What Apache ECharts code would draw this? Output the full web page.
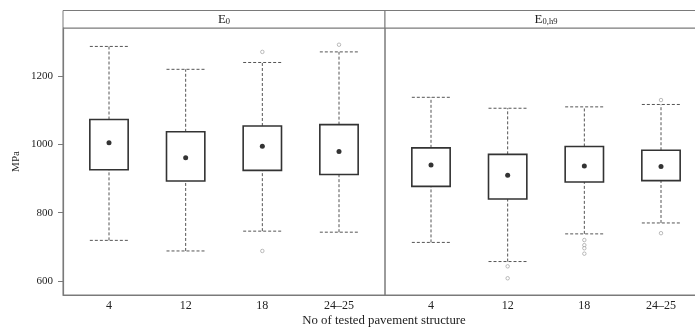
<!DOCTYPE html>
<html>
<head>
<meta charset="utf-8">
<script src="https://cdn.jsdelivr.net/npm/echarts@6/dist/echarts.min.js"></script>
<style>
  html, body { margin: 0; padding: 0; background: #fff; }
  #chart { width: 695px; height: 329px; }
</style>
</head>
<body>
<div id="chart"></div>
<script>
// categories (No of tested pavement structure)
var categories = ["4", "12", "18", "24–25"];
var yTicks = [600, 800, 1000, 1200];

// E0 panel: whisker low, Q1, Q3, whisker high, mean
var e0Low = [719, 688, 746, 743];
var e0Q1 = [926, 893, 924, 912];
var e0Q3 = [1073, 1037, 1054, 1058];
var e0High = [1287, 1220, 1240, 1271];
var e0Mean = [1005, 961, 995, 979];
var e0Outliers = [[2, 1271], [2, 688], [3, 1292]];

// E0,h9 panel
var e9Low = [713, 657, 738, 770];
var e9Q1 = [877, 840, 890, 894];
var e9Q3 = [990, 971, 994, 983];
var e9High = [1138, 1106, 1110, 1117];
var e9Mean = [940, 910, 937, 935];
var e9Outliers = [[1, 643], [1, 608], [2, 720], [2, 705], [2, 696], [2, 680], [3, 1130], [3, 740]];

var FONT = "Liberation Serif";
var LINE = "#7a7a7a";
var TXT = "#222";

function boxRows(low, q1, q3, high) {
  return categories.map(function (c, i) {
    return [i, low[i], q1[i], q3[i], high[i]];
  });
}
function meanRows(m) {
  return categories.map(function (c, i) { return [i, m[i]]; });
}

// box with dashed whiskers, no median line
function renderBox(params, api) {
  var x = api.value(0);
  var lo = api.coord([x, api.value(1)]);
  var q1 = api.coord([x, api.value(2)]);
  var q3 = api.coord([x, api.value(3)]);
  var hi = api.coord([x, api.value(4)]);
  var hw = api.size([1, 0])[0] * 0.25;
  var dash = { stroke: "#555", lineWidth: 1, lineDash: [3, 2] };
  return {
    type: "group",
    children: [
      { type: "line", shape: { x1: lo[0], y1: lo[1], x2: q1[0], y2: q1[1] }, style: dash },
      { type: "line", shape: { x1: q3[0], y1: q3[1], x2: hi[0], y2: hi[1] }, style: dash },
      { type: "line", shape: { x1: lo[0] - hw, y1: lo[1], x2: lo[0] + hw, y2: lo[1] }, style: dash },
      { type: "line", shape: { x1: hi[0] - hw, y1: hi[1], x2: hi[0] + hw, y2: hi[1] }, style: dash },
      {
        type: "rect",
        shape: { x: q3[0] - hw, y: q3[1], width: hw * 2, height: q1[1] - q3[1] },
        style: { fill: "#fff", stroke: "#333", lineWidth: 1.6 }
      }
    ]
  };
}

function xAxisFor(gi) {
  return {
    type: "value",
    gridIndex: gi,
    min: -0.6,
    max: 3.6,
    splitLine: { show: false },
    axisLine: { show: true, onZero: false, lineStyle: { color: LINE, width: 1.2 } },
    axisTick: { show: false },
    axisLabel: {
      customValues: [0, 1, 2, 3],
      formatter: function (v) { return categories[Math.round(v)]; },
      color: TXT,
      fontFamily: FONT,
      fontSize: 12,
      margin: 5
    }
  };
}

function yAxisFor(gi, showLabels) {
  return {
    type: "value",
    gridIndex: gi,
    min: 559,
    max: 1341,
    name: showLabels ? "MPa" : "",
    nameLocation: "middle",
    nameGap: 41,
    nameTextStyle: { color: TXT, fontFamily: FONT, fontSize: 11 },
    splitLine: { show: false },
    axisLine: { show: showLabels, onZero: false, lineStyle: { color: LINE, width: 1.2 } },
    axisTick: { show: showLabels, customValues: yTicks, length: 5, lineStyle: { color: LINE } },
    axisLabel: {
      show: showLabels,
      customValues: yTicks,
      formatter: function (v) { return String(v); },
      color: TXT,
      fontFamily: FONT,
      fontSize: 11,
      margin: 10
    }
  };
}

var outlierStyle = { color: "#fff", borderColor: "#888", borderWidth: 0.7 };

var chart = echarts.init(document.getElementById("chart"));
var option = {
  animation: false,
  backgroundColor: "#fff",
  grid: [
    { left: 63, top: 28, width: 322, height: 267, show: true, borderColor: LINE, borderWidth: 1, containLabel: false, outerBoundsMode: "none" },
    { left: 385, top: 28, width: 322, height: 267, show: true, borderColor: LINE, borderWidth: 1, containLabel: false, outerBoundsMode: "none" }
  ],
  xAxis: [xAxisFor(0), xAxisFor(1)],
  yAxis: [yAxisFor(0, true), yAxisFor(1, false)],
  graphic: [
    { type: "rect", shape: { x: 63, y: 10.5, width: 322, height: 17.5 }, style: { fill: "#fff", stroke: LINE, lineWidth: 1 } },
    { type: "rect", shape: { x: 385, y: 10.5, width: 322, height: 17.5 }, style: { fill: "#fff", stroke: LINE, lineWidth: 1 } },
    {
      type: "text", x: 224, y: 19,
      style: {
        text: "{m|E}{s|0}", align: "center", verticalAlign: "middle",
        rich: {
          m: { fontFamily: FONT, fontSize: 13, fill: TXT, lineHeight: 14, verticalAlign: "bottom" },
          s: { fontFamily: FONT, fontSize: 8.5, fill: TXT, padding: [5, 0, 0, 0], verticalAlign: "bottom" }
        }
      }
    },
    {
      type: "text", x: 546, y: 19,
      style: {
        text: "{m|E}{s|0,h9}", align: "center", verticalAlign: "middle",
        rich: {
          m: { fontFamily: FONT, fontSize: 13, fill: TXT, lineHeight: 14, verticalAlign: "bottom" },
          s: { fontFamily: FONT, fontSize: 8.5, fill: TXT, padding: [5, 0, 0, 0], verticalAlign: "bottom" }
        }
      }
    },
    {
      type: "text", x: 384, y: 321,
      style: { text: "No of tested pavement structure", align: "center", verticalAlign: "middle", fontFamily: FONT, fontSize: 12.8, fill: TXT }
    }
  ],
  series: [
    { type: "custom", xAxisIndex: 0, yAxisIndex: 0, renderItem: renderBox, encode: { x: 0, y: [1, 2, 3, 4] }, data: boxRows(e0Low, e0Q1, e0Q3, e0High), z: 2 },
    { type: "custom", xAxisIndex: 1, yAxisIndex: 1, renderItem: renderBox, encode: { x: 0, y: [1, 2, 3, 4] }, data: boxRows(e9Low, e9Q1, e9Q3, e9High), z: 2 },
    { type: "scatter", xAxisIndex: 0, yAxisIndex: 0, symbol: "circle", symbolSize: 5, itemStyle: { color: "#000" }, data: meanRows(e0Mean), z: 3 },
    { type: "scatter", xAxisIndex: 1, yAxisIndex: 1, symbol: "circle", symbolSize: 5, itemStyle: { color: "#000" }, data: meanRows(e9Mean), z: 3 },
    { type: "scatter", xAxisIndex: 0, yAxisIndex: 0, symbol: "circle", symbolSize: 3.5, itemStyle: outlierStyle, data: e0Outliers, z: 3 },
    { type: "scatter", xAxisIndex: 1, yAxisIndex: 1, symbol: "circle", symbolSize: 3.5, itemStyle: outlierStyle, data: e9Outliers, z: 3 }
  ]
};
chart.setOption(option);
</script>
</body>
</html>
